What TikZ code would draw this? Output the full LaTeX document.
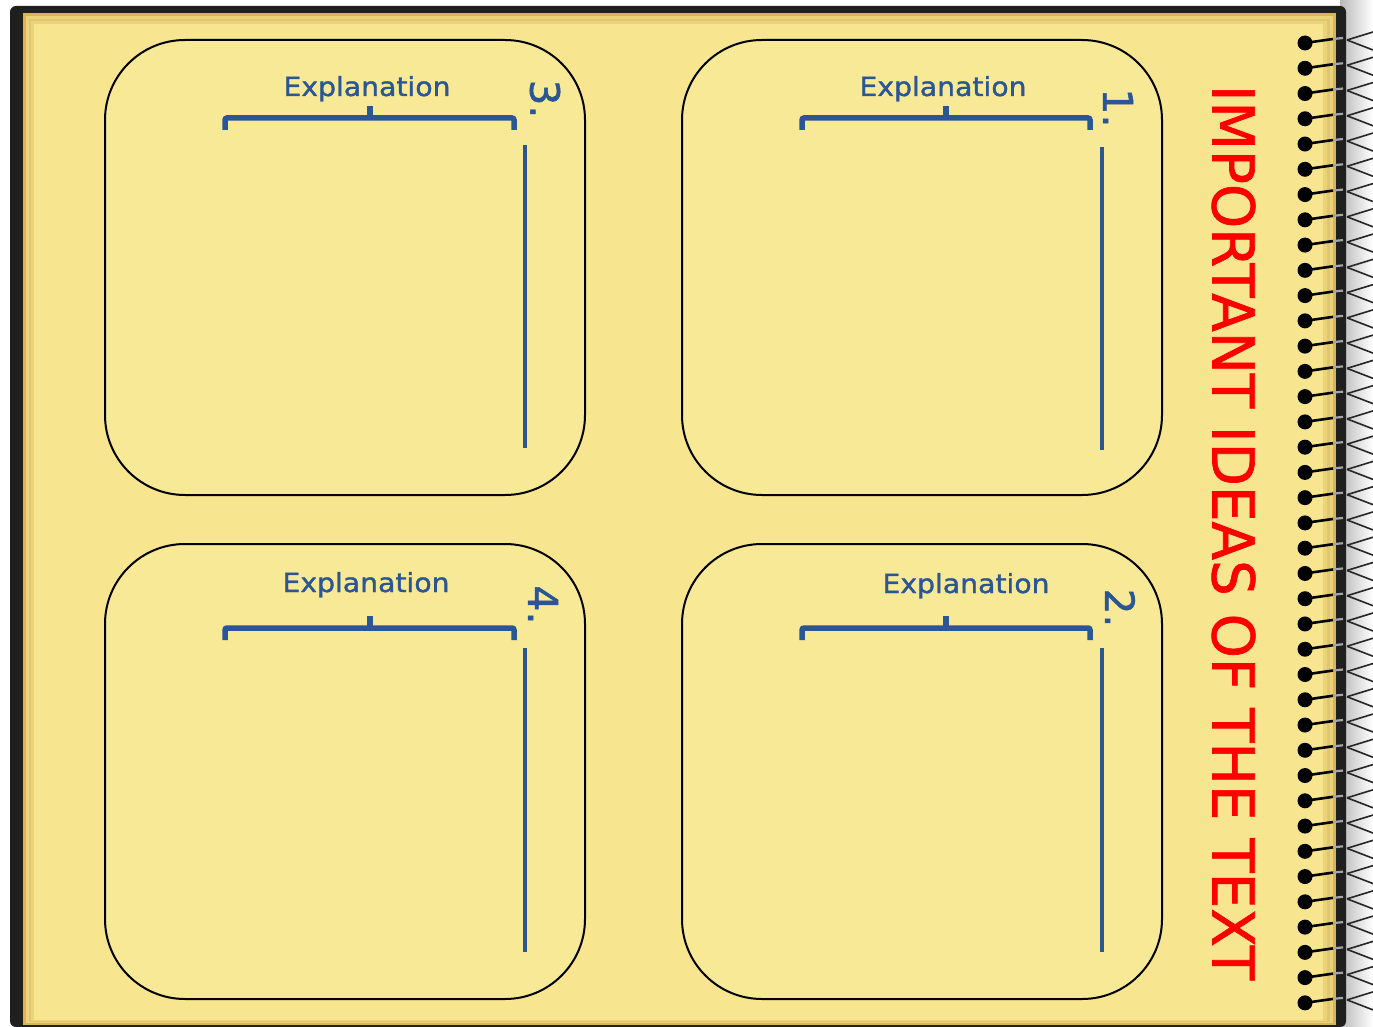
\documentclass[tikz,border=0pt]{standalone}
\usepackage{fontspec}
\setmainfont{DejaVu Sans}
\newfontfamily\thickfont{DejaVu Sans}[FakeBold=1.2]
\usepackage{graphicx}
\usetikzlibrary{calc}
\definecolor{page}{RGB}{247,230,143}
\definecolor{cardfill}{RGB}{248,233,150}
\definecolor{pageedge}{RGB}{214,182,88}
\definecolor{pagemid}{RGB}{236,212,118}
\definecolor{ink}{RGB}{42,86,148}
\definecolor{titlered}{RGB}{255,0,0}
\begin{document}
\begin{tikzpicture}[x=1pt,y=-1pt,
  card/.style={draw=black, line width=2pt, fill=cardfill, rounded corners=80pt,
    minimum width=480pt, minimum height=455pt, inner sep=0pt},
  bracketline/.style={draw=ink, line width=5.5pt, rounded corners=2pt},
  stemline/.style={draw=ink, line width=4.5pt},
  explab/.style={text=ink, inner sep=0pt, anchor=base, font=\thickfont},
  numlab/.style={text=ink, inner sep=0pt, rotate=-90, font=\thickfont},
  ring/.style={fill=black, circle, minimum size=15pt, inner sep=0pt}
]
\useasboundingbox (0,0) rectangle (1373,1027);
\fill[white] (0,0) rectangle (1373,1027);
% background right of board
\shade[left color=gray!55, right color=white] (1340,0) rectangle (1373,1027);
% board
\fill[black!88, rounded corners=6pt] (10,6) rectangle (1346,1027);
% page stack
\fill[pageedge] (23,13) rectangle (1336,1025);
\fill[pagemid] (26,16) rectangle (1333,1023);
\fill[pageedge!80] (29,19) rectangle (1330,1022);
\fill[pagemid] (31,21) rectangle (1327,1021);
\fill[page] (34,24) rectangle (1323,1020);

% cards
\node[card] (c3) at (345,267.5) {};
\node[card] (c1) at (922,267.5) {};
\node[card] (c4) at (345,771.5) {};
\node[card] (c2) at (922,771.5) {};

% card 3 (top-left)
\node[explab] (e3) at (367,96) {\resizebox{167pt}{20pt}{Explanation}};
\draw[bracketline] (225,130) -- (225,118) -- (514,118) -- (514,130);
\draw[bracketline] (370,118) -- (370,106);
\draw[stemline] (525,145) -- (525,448);
\node[numlab] (n3) at (545,99) {\resizebox{!}{30pt}{3.}};

% card 1 (top-right)
\node[explab] (e1) at (943,96) {\resizebox{167pt}{20pt}{Explanation}};
\draw[bracketline] (802,130) -- (802,118) -- (1090,118) -- (1090,130);
\draw[bracketline] (946,118) -- (946,106);
\draw[stemline] (1102,147) -- (1102,450);
\node[numlab] (n1) at (1118,108) {\resizebox{!}{30pt}{1.}};

% card 4 (bottom-left)
\node[explab] (e4) at (366,592) {\resizebox{167pt}{20pt}{Explanation}};
\draw[bracketline] (225,640) -- (225,628) -- (514,628) -- (514,640);
\draw[bracketline] (370,628) -- (370,616);
\draw[stemline] (525,648) -- (525,952);
\node[numlab] (n4) at (543,605) {\resizebox{!}{30pt}{4.}};

% card 2 (bottom-right)
\node[explab] (e2) at (966,593) {\resizebox{167pt}{20pt}{Explanation}};
\draw[bracketline] (802,640) -- (802,628) -- (1090,628) -- (1090,640);
\draw[bracketline] (946,628) -- (946,616);
\draw[stemline] (1102,648) -- (1102,952);
\node[numlab] (n2) at (1120,608) {\resizebox{!}{30pt}{2.}};

% title
\node[text=titlered, inner sep=0pt, rotate=-90, font=\thickfont] (title) at (1233.5,532.5)
  {\resizebox{895pt}{43pt}{IMPORTANT IDEAS OF THE TEXT}};

% spiral binding
\foreach \i in {0,...,38} {
  \pgfmathsetmacro\yy{43+25.26*\i}
  \node[ring] (ring\i) at (1305,\yy) {};
  \draw[black, line width=2.6pt, line cap=round] (ring\i.center) -- ++(28,-4);
  \draw[gray!70, line width=2.2pt] ($(ring\i.center)+(28,-4)$) -- ++(10,-1);
  \draw[black!85, line width=1.6pt] (1347,\yy-3) -- (1373,\yy-11);
  \draw[black!85, line width=1.6pt] (1347,\yy-3) -- (1373,\yy+7);
}
\end{tikzpicture}
\end{document}
